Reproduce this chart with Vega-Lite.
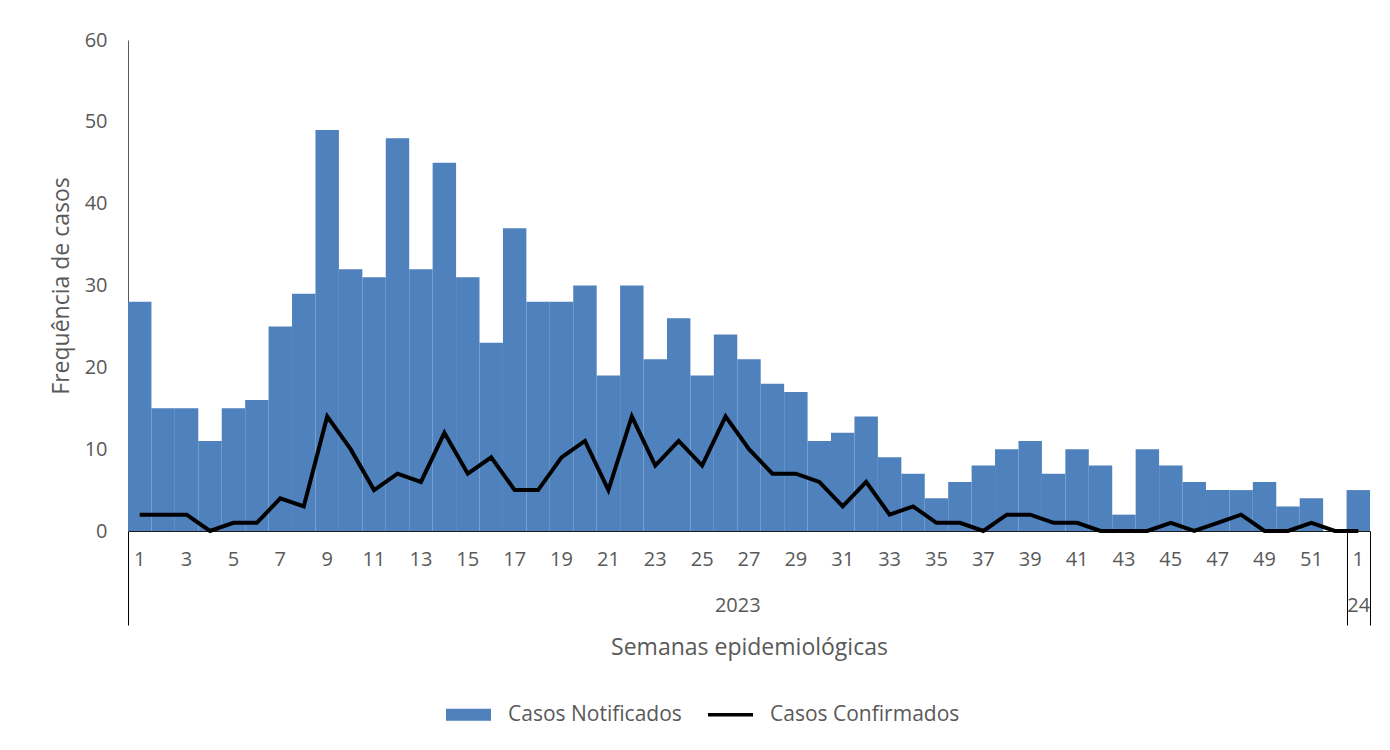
{
  "$schema": "https://vega.github.io/schema/vega-lite/v6.json",
  "width": 1242,
  "height": 491,
  "autosize": {"type": "none"},
  "padding": {"left": 128, "top": 40, "right": 20, "bottom": 219},
  "background": "white",
  "config": {
    "font": "Open Sans",
    "view": {"stroke": null},
    "axis": {"grid": false, "labelColor": "#595959", "titleColor": "#595959", "labelFontSize": 20, "titleFontSize": 23, "titleFontWeight": "normal", "labelFont": "Open Sans", "titleFont": "Open Sans"},
    "legend": {"labelFont": "Open Sans", "labelFontSize": 21, "labelColor": "#595959", "labelLimit": 400}
  },
  "data": {"values": [
    {"key": "2023-01", "idx": 1, "notif": 28, "conf": 2},
    {"key": "2023-02", "idx": 2, "notif": 15, "conf": 2},
    {"key": "2023-03", "idx": 3, "notif": 15, "conf": 2},
    {"key": "2023-04", "idx": 4, "notif": 11, "conf": 0},
    {"key": "2023-05", "idx": 5, "notif": 15, "conf": 1},
    {"key": "2023-06", "idx": 6, "notif": 16, "conf": 1},
    {"key": "2023-07", "idx": 7, "notif": 25, "conf": 4},
    {"key": "2023-08", "idx": 8, "notif": 29, "conf": 3},
    {"key": "2023-09", "idx": 9, "notif": 49, "conf": 14},
    {"key": "2023-10", "idx": 10, "notif": 32, "conf": 10},
    {"key": "2023-11", "idx": 11, "notif": 31, "conf": 5},
    {"key": "2023-12", "idx": 12, "notif": 48, "conf": 7},
    {"key": "2023-13", "idx": 13, "notif": 32, "conf": 6},
    {"key": "2023-14", "idx": 14, "notif": 45, "conf": 12},
    {"key": "2023-15", "idx": 15, "notif": 31, "conf": 7},
    {"key": "2023-16", "idx": 16, "notif": 23, "conf": 9},
    {"key": "2023-17", "idx": 17, "notif": 37, "conf": 5},
    {"key": "2023-18", "idx": 18, "notif": 28, "conf": 5},
    {"key": "2023-19", "idx": 19, "notif": 28, "conf": 9},
    {"key": "2023-20", "idx": 20, "notif": 30, "conf": 11},
    {"key": "2023-21", "idx": 21, "notif": 19, "conf": 5},
    {"key": "2023-22", "idx": 22, "notif": 30, "conf": 14},
    {"key": "2023-23", "idx": 23, "notif": 21, "conf": 8},
    {"key": "2023-24", "idx": 24, "notif": 26, "conf": 11},
    {"key": "2023-25", "idx": 25, "notif": 19, "conf": 8},
    {"key": "2023-26", "idx": 26, "notif": 24, "conf": 14},
    {"key": "2023-27", "idx": 27, "notif": 21, "conf": 10},
    {"key": "2023-28", "idx": 28, "notif": 18, "conf": 7},
    {"key": "2023-29", "idx": 29, "notif": 17, "conf": 7},
    {"key": "2023-30", "idx": 30, "notif": 11, "conf": 6},
    {"key": "2023-31", "idx": 31, "notif": 12, "conf": 3},
    {"key": "2023-32", "idx": 32, "notif": 14, "conf": 6},
    {"key": "2023-33", "idx": 33, "notif": 9, "conf": 2},
    {"key": "2023-34", "idx": 34, "notif": 7, "conf": 3},
    {"key": "2023-35", "idx": 35, "notif": 4, "conf": 1},
    {"key": "2023-36", "idx": 36, "notif": 6, "conf": 1},
    {"key": "2023-37", "idx": 37, "notif": 8, "conf": 0},
    {"key": "2023-38", "idx": 38, "notif": 10, "conf": 2},
    {"key": "2023-39", "idx": 39, "notif": 11, "conf": 2},
    {"key": "2023-40", "idx": 40, "notif": 7, "conf": 1},
    {"key": "2023-41", "idx": 41, "notif": 10, "conf": 1},
    {"key": "2023-42", "idx": 42, "notif": 8, "conf": 0},
    {"key": "2023-43", "idx": 43, "notif": 2, "conf": 0},
    {"key": "2023-44", "idx": 44, "notif": 10, "conf": 0},
    {"key": "2023-45", "idx": 45, "notif": 8, "conf": 1},
    {"key": "2023-46", "idx": 46, "notif": 6, "conf": 0},
    {"key": "2023-47", "idx": 47, "notif": 5, "conf": 1},
    {"key": "2023-48", "idx": 48, "notif": 5, "conf": 2},
    {"key": "2023-49", "idx": 49, "notif": 6, "conf": 0},
    {"key": "2023-50", "idx": 50, "notif": 3, "conf": 0},
    {"key": "2023-51", "idx": 51, "notif": 4, "conf": 1},
    {"key": "2023-52", "idx": 52, "notif": 0, "conf": 0},
    {"key": "2024-01", "idx": 53, "notif": 5, "conf": 0}
  ]},
  "layer": [
    {
      "mark": {"type": "bar"},
      "encoding": {
        "x": {
          "field": "key", "type": "ordinal",
          "scale": {"paddingInner": 0, "paddingOuter": 0},
          "axis": {
            "orient": "bottom",
            "title": null,
            "labelAngle": 0,
            "labelOverlap": false,
            "labelBound": false,
            "labelExpr": "substring(datum.value, 0, 4) == '2024' ? '1' : (toNumber(substring(datum.value, 5)) % 2 == 1 ? '' + toNumber(substring(datum.value, 5)) : '')",
            "ticks": false,
            "labelPadding": 18,
            "domainColor": "#1a1a1a",
            "domainWidth": 1
          }
        },
        "y": {
          "field": "notif", "type": "quantitative",
          "scale": {"domain": [0, 60], "nice": false},
          "axis": {
            "values": [0, 10, 20, 30, 40, 50, 60],
            "ticks": false,
            "labelPadding": 21,
            "domainColor": "#595959",
            "title": "Frequência de casos",
            "titlePadding": 11
          }
        },
        "color": {
          "datum": "Casos Notificados", "type": "nominal",
          "scale": {"domain": ["Casos Notificados", "Casos Confirmados"], "range": ["#4F81BD", "#000000"]},
          "legend": {
            "title": null,
            "orient": "none",
            "direction": "horizontal",
            "legendX": 318,
            "legendY": 652,
            "symbolSize": 2025,
            "columnPadding": 26,
            "labelOffset": 17,
            "encode": {
              "symbols": {
                "update": {
                  "shape": {"signal": "datum.value == 'Casos Notificados' ? 'M-1,-0.27H1V0.27H-1Z' : 'M-1,-0.08H1V0.08H-1Z'"},
                  "fill": {"signal": "datum.value == 'Casos Notificados' ? '#4F81BD' : '#000000'"},
                  "stroke": {"value": "transparent"},
                  "strokeWidth": {"value": 0},
                  "opacity": {"value": 1}
                }
              }
            }
          }
        }
      }
    },
    {
      "mark": {"type": "line", "strokeWidth": 4},
      "encoding": {
        "x": {
          "field": "idx", "type": "quantitative",
          "scale": {"domain": [0.5, 53.5], "nice": false, "zero": false},
          "axis": {
            "orient": "bottom",
            "values": [0.5, 26.5, 52.5, 53, 53.5],
            "labelExpr": "datum.value == 53 ? '24' : (datum.value == 26.5 ? '2023' : '')",
            "ticks": true,
            "tickSize": 94,
            "tickWidth": 1,
            "tickColor": {"condition": {"test": "datum.value == 0.5 || datum.value == 52.5 || datum.value == 53.5", "value": "#000000"}, "value": "transparent"},
            "domain": false,
            "labelFlush": false,
            "labelBound": false,
            "labelOverlap": false,
            "labelPadding": -30,
            "title": "Semanas epidemiológicas",
            "titlePadding": 11
          }
        },
        "y": {"field": "conf", "type": "quantitative"},
        "color": {"datum": "Casos Confirmados", "type": "nominal"}
      }
    }
  ],
  "resolve": {"scale": {"x": "independent"}, "axis": {"x": "independent"}}
}
